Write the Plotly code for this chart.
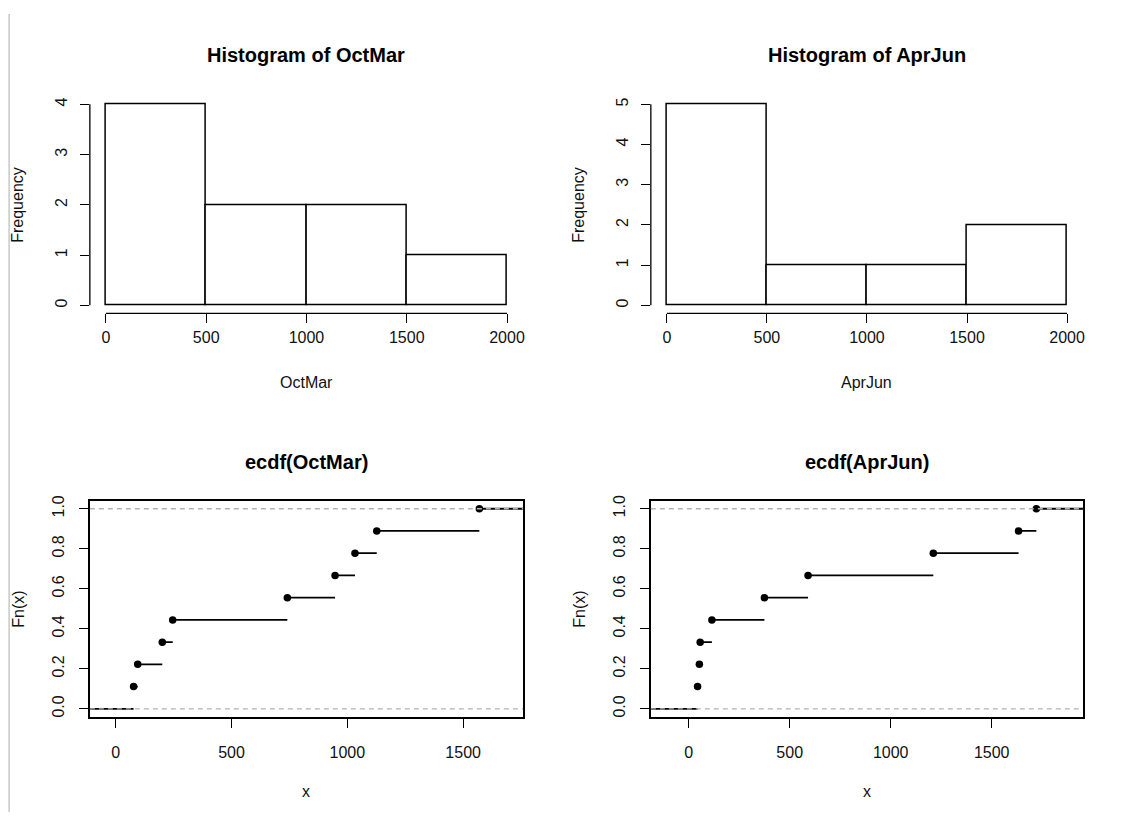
import numpy as np
import plotly.graph_objects as go

# ---- data ----
oct_mar = [77, 95, 201, 246, 741, 947, 1033, 1127, 1570]
apr_jun = [44, 53, 57, 115, 375, 591, 1211, 1633, 1721]
hist_breaks = [0, 500, 1000, 1500, 2000]
hist_titles = ["Histogram of OctMar", "Histogram of AprJun"]
ecdf_titles = ["ecdf(OctMar)", "ecdf(AprJun)"]
hist_xlabels = ["OctMar", "AprJun"]
ecdf_xticks = [0, 500, 1000, 1500]
ecdf_yticks = [0.0, 0.2, 0.4, 0.6, 0.8, 1.0]

W, H = 1128, 821
OFF = 8  # default page body margin
FW, FH = W - 2 * OFF, H - 2 * OFF
FONT = "Liberation Sans, Arial, sans-serif"

def px_x(p):
    return (p - OFF) / FW

def px_y(p):
    return 1 - (p - OFF) / FH

colL = [px_x(90), px_x(524)]
colR = [px_x(652), px_x(1085)]
rowT = [px_y(310), px_y(91)]
rowB = [px_y(717), px_y(499)]

fig = go.Figure()

axis_common = dict(
    showgrid=False, zeroline=False, ticks="outside", ticklen=9, tickwidth=1.3,
    tickcolor="black", tickfont=dict(family=FONT, size=16, color="#111"),
)

shapes = []
annotations = []

def ext(lo, hi, f=0.04):
    d = (hi - lo) * f
    return [lo - d, hi + d]

def label(text, x, y, size=16, angle=0, bold=False):
    annotations.append(dict(
        text=f"<b>{text}</b>" if bold else text, x=x, y=y, xref="paper", yref="paper",
        xanchor="center", yanchor="middle", textangle=angle, showarrow=False,
        font=dict(family=FONT, size=size, color="black" if bold else "#111")))

panels = [(oct_mar, colL), (apr_jun, colR)]

# ---- histograms ----
for i, (data, dom) in enumerate(panels):
    k = i + 1
    xa = "x" if k == 1 else f"x{k}"
    ya = "y" if k == 1 else f"y{k}"
    counts, _edges = np.histogram(data, bins=hist_breaks)
    cmax = int(counts.max())
    fig.add_trace(go.Histogram(
        x=data, xbins=dict(start=hist_breaks[0], end=hist_breaks[-1], size=hist_breaks[1] - hist_breaks[0]),
        marker=dict(color="white", line=dict(color="black", width=1.5)),
        xaxis=xa, yaxis=ya, showlegend=False,
    ))
    fig.update_layout(**{
        f"xaxis{'' if k == 1 else k}": dict(
            domain=dom, anchor=ya, range=ext(hist_breaks[0], hist_breaks[-1]),
            tickvals=hist_breaks, ticklabelstandoff=0, showline=False, **axis_common),
        f"yaxis{'' if k == 1 else k}": dict(
            domain=rowT, anchor=xa, range=ext(0, cmax),
            tickvals=list(range(cmax + 1)), tickangle=-90, ticklabelstandoff=6,
            showline=False, **axis_common),
    })
    # R-style axis lines spanning first to last tick
    shapes.append(dict(type="line", xref=f"{xa} domain", yref=ya, x0=0, x1=0, y0=0, y1=cmax,
                       line=dict(color="black", width=1.3)))
    shapes.append(dict(type="line", xref=xa, yref=f"{ya} domain", x0=hist_breaks[0], x1=hist_breaks[-1],
                       y0=0, y1=0, line=dict(color="black", width=1.3)))
    cx = (dom[0] + dom[1]) / 2
    label(hist_titles[i], cx, px_y(49), size=20, bold=True)
    label(hist_xlabels[i], cx, px_y(380))
    label("Frequency", px_x(18) + (dom[0] - colL[0]), (rowT[0] + rowT[1]) / 2, angle=-90)

# ---- ecdf plots ----
for i, (data, dom) in enumerate(panels):
    k = i + 3
    xa, ya = f"x{k}", f"y{k}"
    knots = np.sort(np.unique(data))
    n = len(data)
    Fv = np.array([np.sum(np.array(data) <= v) / n for v in knots])
    rx = [knots[0], knots[-1]]
    dr = max(0.08 * (rx[1] - rx[0]), float(np.median(np.diff(knots))))
    xlim = [rx[0] - dr, rx[1] + dr]
    ti = np.concatenate([[xlim[0] - dr], knots, [xlim[1] + dr]])
    yv = np.concatenate([[0.0], Fv])
    sx, sy = [], []
    for j in range(len(ti) - 1):
        sx += [ti[j], ti[j + 1], None]
        sy += [yv[j], yv[j], None]
    fig.add_trace(go.Scatter(x=sx, y=sy, mode="lines", line=dict(color="black", width=1.8),
                             xaxis=xa, yaxis=ya, showlegend=False, hoverinfo="skip"))
    fig.add_trace(go.Scatter(x=knots, y=Fv, mode="markers", marker=dict(color="black", size=7.5),
                             xaxis=xa, yaxis=ya, showlegend=False, cliponaxis=False))
    fig.update_layout(**{
        f"xaxis{k}": dict(domain=dom, anchor=ya, range=ext(*xlim), tickvals=ecdf_xticks,
                          ticklabelstandoff=11, showline=True, mirror=True, linecolor="black",
                          linewidth=1.5, **axis_common),
        f"yaxis{k}": dict(domain=rowB, anchor=xa, range=ext(0, 1), tickvals=ecdf_yticks,
                          tickformat=".1f", tickangle=-90, ticklabelstandoff=9, showline=True,
                          mirror=True, linecolor="black", linewidth=1.5, **axis_common),
    })
    for hv in (0, 1):
        shapes.append(dict(type="line", xref=f"{xa} domain", yref=ya, x0=0, x1=1, y0=hv, y1=hv,
                           layer="above", line=dict(color="#b3b3b3", width=1.3, dash="5px,4px")))
    cx = (dom[0] + dom[1]) / 2
    label(ecdf_titles[i], cx, px_y(460), size=20, bold=True)
    label("x", cx, px_y(792))
    label("Fn(x)", px_x(19) + (dom[0] - colL[0]), (rowB[0] + rowB[1]) / 2, angle=-90)

# left pane border (as close to the page edge as the layout allows)
shapes.append(dict(type="line", xref="paper", yref="paper", x0=0.001, x1=0.001, y0=0, y1=1,
                   line=dict(color="#c8c8c8", width=1.5)))

fig.update_layout(
    width=FW, height=FH, margin=dict(l=0, r=0, t=0, b=0),
    paper_bgcolor="white", plot_bgcolor="white",
    bargap=0, shapes=shapes, annotations=annotations,
    font=dict(family=FONT),
)

fig.write_html("out.html")
